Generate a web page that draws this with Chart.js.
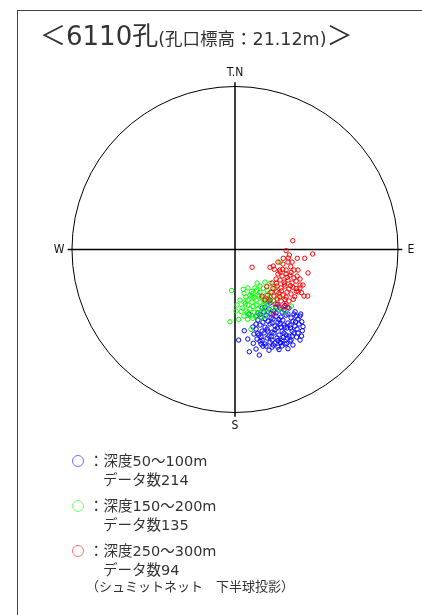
<!DOCTYPE html>
<html>
<head>
<meta charset="utf-8">
<script src="https://cdn.jsdelivr.net/npm/chart.js@4"></script>
<style>
  body { margin: 0; width: 422px; height: 615px; overflow: hidden; background: #fff; position: relative; }
  #frame { position: absolute; left: 17px; top: 10px; width: 440px; height: 640px; border: 1px solid #444; }
  #wrap { position: absolute; left: 0; top: 0; width: 422px; height: 615px; }
  .title { position: absolute; left: 40px; top: 15px; color: #333; font-family: "DejaVu Sans", "Noto Sans CJK JP", sans-serif; white-space: nowrap; }
  .title .big { font-size: 26px; }
  .title .small { font-size: 17.5px; }
  .legend { position: absolute; left: 72px; top: 452px; color: #333; font-family: "DejaVu Sans", "Noto Sans CJK JP", sans-serif; font-size: 14.5px; }
  .legend .row { height: 19px; line-height: 19px; white-space: nowrap; }
  .legend .grp { margin-bottom: 7px; }
  .legend .mark { display: inline-block; width: 10px; height: 10px; border: 1px solid; border-radius: 50%; vertical-align: -1px; margin-right: 5px; }
  .legend .ind { padding-left: 31px; }
  .legend .note { padding-left: 14px; margin-top: -10px; font-size: 13px; }
</style>
</head>
<body>
<div id="frame"></div>
<div id="wrap"><canvas id="net"></canvas></div>
<div class="title"><span class="big">＜6110孔</span><span class="small">(孔口標高：21.12m)</span><span class="big">＞</span></div>
<div class="legend" id="legend"></div>
<script>
// plot units: net radius = 94.5, axes run -100..100
const NET_RADIUS = 94.5;

const depthLabels = ['深度50～100m', '深度150～200m', '深度250～300m'];
const dataCounts = [214, 135, 94];
const pointColors = ['#0000ff', '#00ff00', '#ff0000'];
const legendColors = ['#7070ff', '#70ff70', '#ff7070'];
const dirLabels = ['T.N', 'E', 'S', 'W'];

// poles (x = east, y = north)
const pts50_100 = [
  [20.3,-31.0],[23.8,-33.4],[15.7,-33.9],[19.7,-34.5],[22.6,-35.7],[26.1,-33.9],
  [13.3,-36.8],[16.8,-36.3],[20.9,-37.2],[23.8,-36.8],[27.3,-36.3],[30.7,-37.4],
  [12.2,-38.6],[15.1,-39.2],[18.0,-38.0],[20.9,-39.7],[23.8,-38.6],[26.7,-39.2],[29.6,-38.0],[32.5,-39.7],[35.4,-38.6],
  [13.3,-40.9],[16.2,-42.1],[19.1,-41.5],[22.0,-40.3],[24.9,-42.1],[27.8,-40.9],[30.7,-42.6],[33.6,-41.5],[36.5,-40.3],
  [14.5,-43.8],[17.4,-45.0],[20.3,-43.2],[23.2,-44.4],[26.1,-43.2],[29.0,-45.0],[31.9,-43.8],[34.8,-44.4],[37.1,-43.2],
  [12.2,-46.1],[15.7,-47.3],[18.6,-46.1],[21.5,-47.9],[24.4,-45.5],[27.3,-47.3],[30.2,-45.5],[33.1,-47.3],[36.0,-46.1],
  [13.9,-49.6],[16.8,-48.4],[19.7,-50.2],[22.6,-48.4],[25.5,-49.6],[28.4,-48.4],[31.3,-50.2],[34.2,-48.4],
  [12.8,-51.9],[15.7,-52.5],[18.6,-51.3],[21.5,-52.5],[24.4,-51.3],[27.3,-52.5],[30.2,-51.3],[32.5,-52.5],
  [14.5,-53.1],[17.4,-54.8],[20.3,-53.7],[23.2,-54.2],[26.1,-53.7],[29.0,-54.8],
  [18.0,-56.0],[24.9,-56.6],
  [5.4,-47.1],[2.1,-52.5],[7.4,-51.9],[10.6,-54.4],[8.3,-59.3],[14.1,-61.2],[15.1,-54.8],[13.2,-48.6],
  [12.2,-43.2],[22.2,-55.4],[30.0,-54.4],[35.7,-50.8],[38.6,-50.2],[38.7,-41.9],[37.7,-38.6],[34.2,-37.4],
  [38.1,-37.4],[26.5,-54.1],[8.1,-37.4],[19.7,-29.9],[17.4,-33.4],[28.4,-35.1],[31.3,-33.9],
  [14.5,-37.7],[17.4,-40.3],[21.5,-42.6],[25.5,-40.6],[28.4,-43.8],[32.2,-45.5],[35.1,-42.0],[19.1,-47.3],
  [23.2,-46.6],[26.7,-45.0],[29.6,-49.6],[33.1,-50.2],[36.5,-48.4],[15.1,-50.8],[21.0,-50.6],[24.9,-52.8],
  [28.0,-51.0],[31.9,-53.1],[16.2,-56.0],[21.5,-56.6],[27.3,-55.9],[11.0,-49.0],[10.4,-44.9],[39.4,-44.7],
  [37.7,-52.5],[33.6,-55.4],[19.7,-58.4],[25.5,-58.0],[30.7,-57.5],[12.2,-57.7],[34.8,-36.1],[24.4,-31.8],
  [29.0,-32.5],[39.0,-47.1]
];
const pts150_200 = [
  [-2.0,-23.8],[4.8,-23.1],[5.2,-25.4],[9.6,-24.4],[12.6,-23.5],[16.4,-22.5],[20.3,-19.6],[26.1,-7.4],
  [-2.9,-41.9],[2.1,-40.5],[7.3,-40.5],[10.3,-39.9],[9.3,-46.3],[32.7,-32.8],[22.0,-34.1],[25.5,-34.5],[29.0,-35.7],
  [6.4,-27.6],[8.7,-26.4],[11.0,-28.1],[13.3,-26.4],[15.7,-28.1],[18.0,-26.4],[20.3,-27.6],
  [5.2,-30.5],[7.5,-32.2],[9.9,-30.5],[12.2,-32.2],[14.5,-30.5],[16.8,-32.2],[19.1,-31.0],
  [4.1,-33.9],[6.4,-35.7],[8.7,-34.5],[11.0,-36.3],[13.3,-34.5],[15.7,-36.3],[18.0,-34.5],[20.3,-35.7],
  [5.2,-38.6],[8.1,-38.0],[12.8,-38.6],[15.1,-39.7],[17.4,-38.6],[2.9,-29.3],[1.2,-32.2],[0.6,-35.7],
  [21.5,-24.7],[23.2,-22.3],[18.6,-23.5],[14.5,-24.7],[11.6,-22.3],[7.5,-22.3],[22.6,-29.9],[24.9,-27.6],
  [14.5,-21.2],[12.8,-19.4],[17.4,-18.9],[9.9,-27.0],[7.5,-29.3],[12.2,-29.3],[16.8,-29.3],[13.3,-36.8],
  [10.4,-25.5],[14.0,-27.0],[17.5,-30.5],[10.5,-33.0],[7.0,-36.8],[3.5,-36.0],[15.0,-33.2],[19.5,-29.0],
  [6.0,-31.5],[10.0,-38.5]
];
const pts250_300 = [
  [33.5,5.1],[29.6,-0.7],[31.5,-3.2],[30.9,-4.9],[36.1,-5.1],[40.4,-5.1],[45.0,-2.6],[9.9,-10.3],
  [28.0,-5.1],[32.3,-10.0],[22.2,-9.6],[22.8,-11.5],[27.7,-11.5],[20.3,-10.3],[42.3,-13.6],[37.7,-22.3],
  [37.7,-20.6],[42.2,-27.0],[18.4,-21.6],[17.4,-29.3],[24.2,-24.5],[22.2,-37.4],[33.8,-28.9],[36.7,-24.5],
  [40.0,-27.0],[34.6,-27.4],[28.4,-33.2],[29.6,-31.6],[35.6,-24.2],[25.9,-11.9],
  [24.9,-14.2],[27.3,-15.4],[29.6,-14.2],[31.9,-14.8],[34.2,-16.5],[26.1,-17.7],[28.4,-18.9],[30.7,-17.7],
  [33.1,-19.4],[35.4,-18.3],[24.4,-21.2],[26.7,-22.3],[29.0,-21.2],[31.3,-22.9],[33.6,-21.8],[25.5,-25.2],
  [27.8,-26.4],[30.2,-24.7],[32.5,-25.8],[20.9,-24.7],[22.6,-27.0],[20.3,-29.3],[24.4,-28.7],[26.7,-29.9],
  [23.2,-31.6],[25.5,-32.8],[31.3,-29.9],[29.6,-27.6],[36.0,-15.4],[36.5,-11.9],[34.2,-11.9],[29.6,-11.9],
  [23.8,-17.1],[21.5,-19.4],[37.7,-17.1],[39.4,-20.6],[27.8,-8.4],[24.9,-7.3],[33.1,-7.3],[30.7,-7.3],[15.7,-27.0],
  [26.1,-13.0],[30.2,-16.2],[32.5,-13.3],[28.7,-20.0],[32.2,-21.0],[27.0,-24.0],[29.0,-29.0],[22.0,-22.6],
  [24.0,-19.6],[35.4,-22.6],[38.5,-25.0],[30.5,-33.5],[26.0,-27.5],[19.0,-26.5]
];

const allPts = [pts50_100, pts150_200, pts250_300];

// legend block
const legendEl = document.getElementById('legend');
let html = '';
depthLabels.forEach((lbl, i) => {
  html += '<div class="grp"><div class="row"><span class="mark" style="border-color:' + legendColors[i] + '"></span>：' + lbl + '</div>' +
          '<div class="row ind">データ数' + dataCounts[i] + '</div></div>';
});
html += '<div class="row note">（シュミットネット　下半球投影）</div>';
legendEl.innerHTML = html;

// circle, cross and compass labels
const netPlugin = {
  id: 'schmidtNet',
  beforeDatasetsDraw(chart) {
    const { ctx, scales: { x, y } } = chart;
    const cx = x.getPixelForValue(0);
    const cy = y.getPixelForValue(0);
    const r = x.getPixelForValue(NET_RADIUS) - cx;
    const ext = x.getPixelForValue(NET_RADIUS + 2.5) - cx;
    const lab = x.getPixelForValue(NET_RADIUS + 7.5) - cx;

    ctx.save();
    ctx.strokeStyle = '#000';
    ctx.lineWidth = 1;
    ctx.beginPath();
    ctx.arc(cx, cy, r, 0, Math.PI * 2);
    ctx.stroke();

    ctx.lineWidth = 1.5;
    ctx.beginPath();
    ctx.moveTo(cx - ext, cy); ctx.lineTo(cx + ext, cy);
    ctx.moveTo(cx, cy - ext); ctx.lineTo(cx, cy + ext);
    ctx.stroke();

    ctx.fillStyle = '#111';
    ctx.font = '12px "DejaVu Sans Condensed", "Liberation Sans Narrow", sans-serif';
    ctx.textAlign = 'center';
    ctx.textBaseline = 'middle';
    ctx.fillText(dirLabels[0], cx, cy - lab - 1);
    ctx.fillText(dirLabels[1], cx + lab, cy);
    ctx.fillText(dirLabels[2], cx, cy + lab);
    ctx.fillText(dirLabels[3], cx - lab, cy);
    ctx.restore();
  }
};

const datasets = [2, 1, 0].map(i => ({
  label: depthLabels[i],
  data: allPts[i].map(p => ({ x: p[0], y: p[1] })),
  borderColor: pointColors[i],
  backgroundColor: 'rgba(0,0,0,0)',
  pointRadius: 2.2,
  pointBorderWidth: 1,
  pointHoverRadius: 2.2
}));

new Chart(document.getElementById('net'), {
  type: 'scatter',
  data: { datasets },
  options: {
    responsive: true,
    maintainAspectRatio: false,
    animation: false,
    layout: { padding: { left: 62.5, right: 14.5, top: 77, bottom: 193 } },
    plugins: { legend: { display: false }, tooltip: { enabled: false } },
    scales: {
      x: { display: false, min: -100, max: 100 },
      y: { display: false, min: -100, max: 100 }
    }
  },
  plugins: [netPlugin]
});
</script>
</body>
</html>
